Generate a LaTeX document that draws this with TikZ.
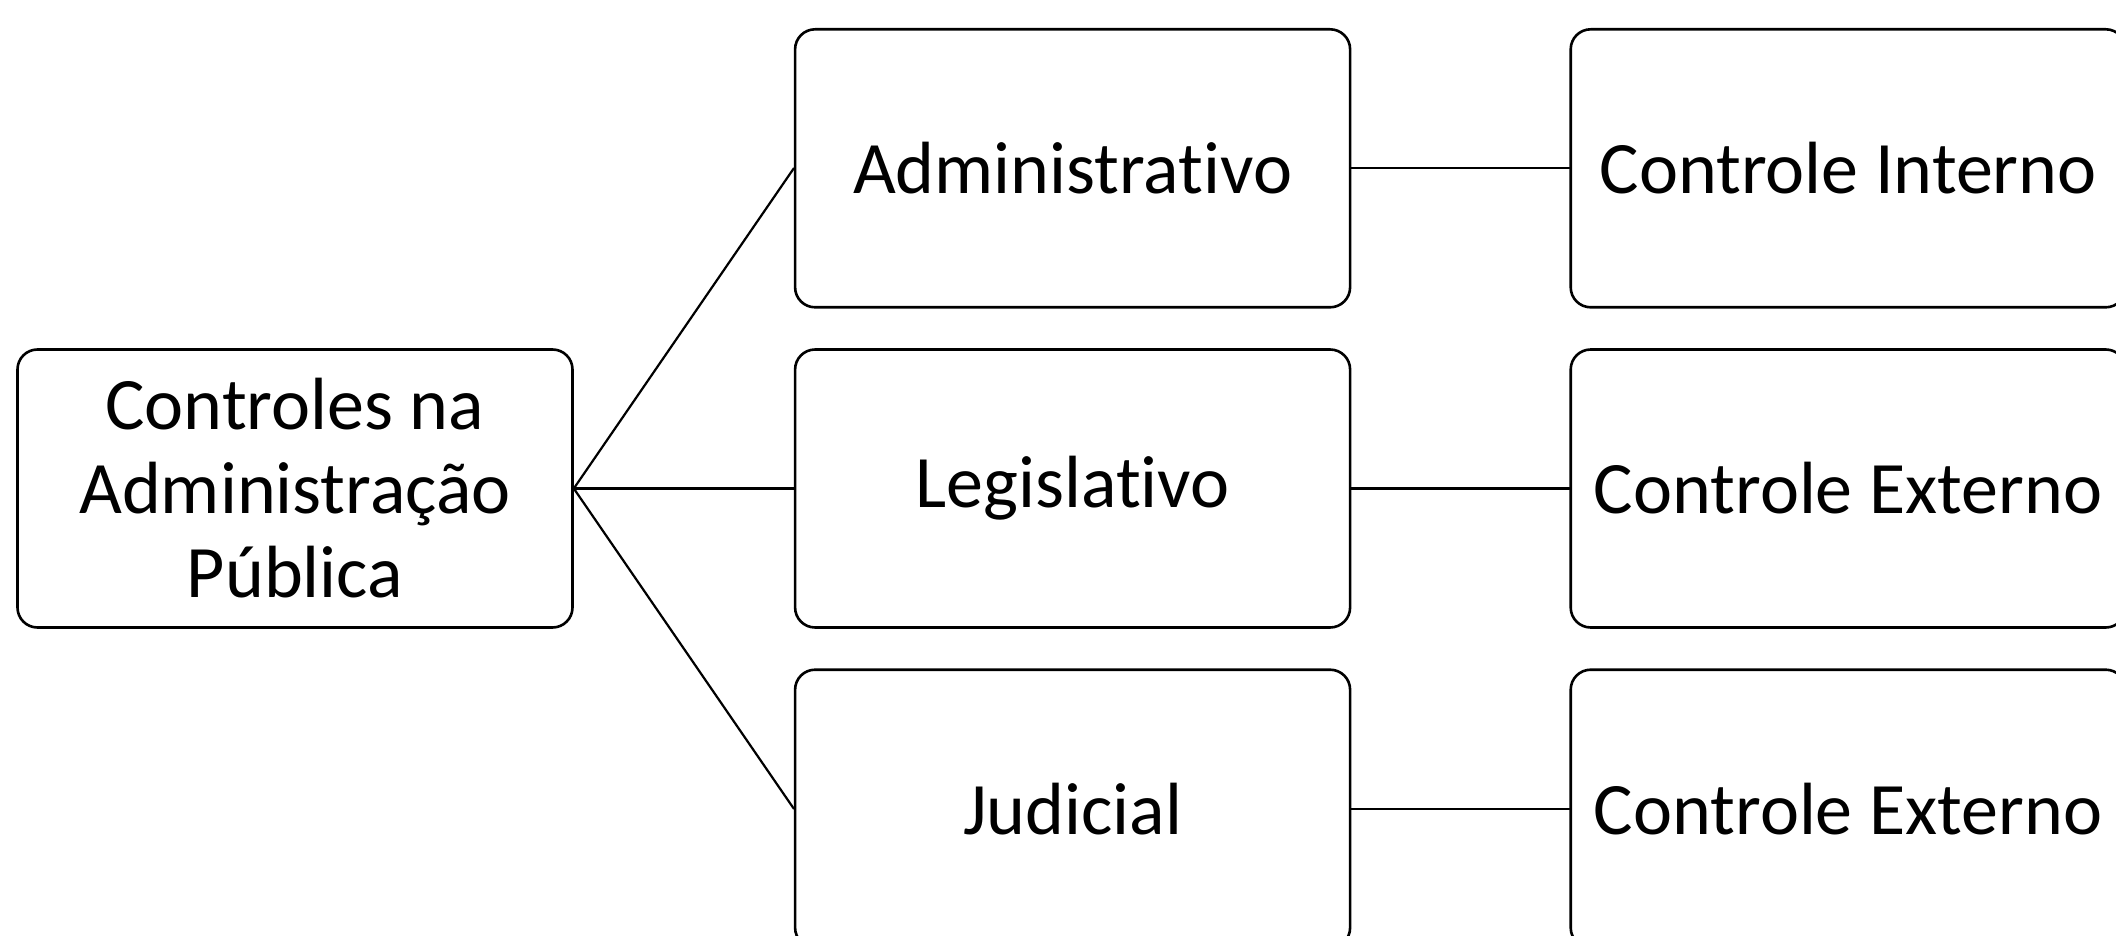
\documentclass[tikz,border=0pt]{standalone}
\usepackage{fontspec}
\setmainfont[Ligatures=CommonOff]{Carlito}
\usetikzlibrary{positioning}

\begin{document}
\begin{tikzpicture}[line cap=round,line join=round,x=1pt,y=1pt,
  caixa/.style={draw=black,line width=1.3pt,rounded corners=10pt,
    minimum width=277.5pt,minimum height=139pt,inner sep=0pt,
    align=center,font=\fontsize{37}{42}\selectfont},
  liga/.style={draw=black,line width=1.1pt},
  node distance=19.8pt and 109pt]
\useasboundingbox (0,0) rectangle (1058,-468);
% raiz
\node[caixa] (raiz) at (147.5,-244.25) {Controles na\\Administração\\Pública};
% poderes
\node[caixa,right=110pt of raiz] (leg) {Legislativo};
\node[caixa,above=of leg] (adm) {Administrativo};
\node[caixa,below=of leg] (jud) {Judicial};
% tipos de controle
\node[caixa,right=of adm] (cint) {Controle Interno};
\node[caixa,right=of leg] (cextl) {Controle Externo};
\node[caixa,right=of jud] (cextj) {Controle Externo};
\draw [liga] (raiz.east)-- (adm.west);
\draw [liga] (raiz.east)-- (leg.west);
\draw [liga] (raiz.east)-- (jud.west);
\draw [liga] (adm.east)-- (cint.west);
\draw [liga] (leg.east)-- (cextl.west);
\draw [liga] (jud.east)-- (cextj.west);
\end{tikzpicture}
\end{document}
